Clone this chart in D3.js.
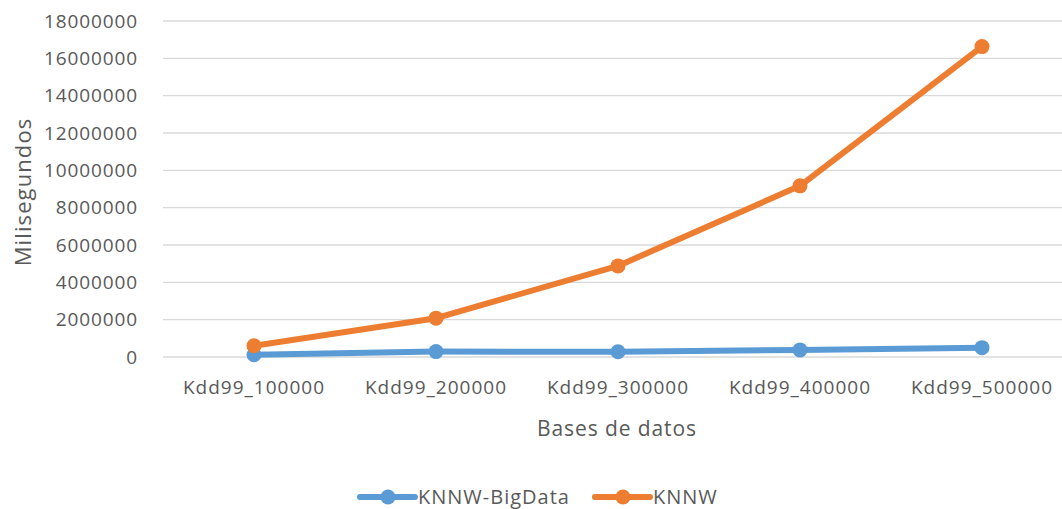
<!DOCTYPE html>
<html>
<head>
<meta charset="utf-8">
<script src="https://cdn.jsdelivr.net/npm/d3@7"></script>
<style>
  body { margin: 0; background: #fff; }
  text { font-family: "Open Sans", sans-serif; fill: #595959; }
</style>
</head>
<body>
<div id="container"></div>
<script>
var categories = ["Kdd99_100000", "Kdd99_200000", "Kdd99_300000", "Kdd99_400000", "Kdd99_500000"];
var bigData = [120000, 290000, 280000, 380000, 500000];
var knnw = [600000, 2080000, 4880000, 9170000, 16630000];
var yTicks = [0, 2000000, 4000000, 6000000, 8000000, 10000000, 12000000, 14000000, 16000000, 18000000];
var seriesNames = ["KNNW-BigData", "KNNW"];
var seriesColors = ["#5B9BD5", "#ED7D31"];

var W = 1062, H = 509;
var margin = {top: 21, right: -11, bottom: 152, left: 163},
    width = W - margin.left - margin.right,
    height = H - margin.top - margin.bottom;

var svg = d3.select("#container")
  .append("svg")
    .attr("width", W)
    .attr("height", H);

var g = svg.append("g")
    .attr("transform", "translate(" + margin.left + "," + margin.top + ")");

var x = d3.scaleBand()
  .domain(categories)
  .range([0, width]);

var y = d3.scaleLinear()
  .domain([0, 18000000])
  .range([height, 0]);

// gridlines
g.selectAll(".grid")
  .data(yTicks)
  .enter()
  .append("line")
    .attr("x1", 0)
    .attr("x2", width)
    .attr("y1", function (d) { return y(d); })
    .attr("y2", function (d) { return y(d); })
    .attr("stroke", "#d9d9d9")
    .attr("stroke-width", 1.3);

// Y axis
var yAxis = g.append("g")
  .call(d3.axisLeft(y).tickValues(yTicks).tickFormat(d3.format("d")).tickSize(0).tickPadding(25));
yAxis.select(".domain").remove();
yAxis.selectAll("text")
  .style("font-size", "19px")
  .style("letter-spacing", "0.9px")
  .attr("fill", "#595959");

// X axis
var xAxis = g.append("g")
  .attr("transform", "translate(0," + height + ")")
  .call(d3.axisBottom(x).tickSize(0).tickPadding(24));
xAxis.select(".domain").remove();
xAxis.selectAll("text")
  .style("font-size", "19px")
  .style("letter-spacing", "1px")
  .attr("fill", "#595959");

// axis titles
svg.append("text")
  .attr("transform", "translate(31," + (margin.top + height / 2 + 3) + ") rotate(-90)")
  .attr("text-anchor", "middle")
  .style("font-size", "22px")
  .style("letter-spacing", "1.1px")
  .text("Milisegundos");

svg.append("text")
  .attr("x", 617)
  .attr("y", 436)
  .attr("text-anchor", "middle")
  .style("font-size", "21px")
  .style("letter-spacing", "0.9px")
  .text("Bases de datos");

// lines
var line = d3.line()
  .x(function (d, i) { return x(categories[i]) + x.bandwidth() / 2; })
  .y(function (d) { return y(d); });

[bigData, knnw].forEach(function (s, k) {
  g.append("path")
    .datum(s)
    .attr("fill", "none")
    .attr("stroke", seriesColors[k])
    .attr("stroke-width", 6)
    .attr("stroke-linejoin", "round")
    .attr("stroke-linecap", "round")
    .attr("d", line);
  g.selectAll(".pt" + k)
    .data(s)
    .enter()
    .append("circle")
      .attr("cx", function (d, i) { return x(categories[i]) + x.bandwidth() / 2; })
      .attr("cy", function (d) { return y(d); })
      .attr("r", 7.5)
      .attr("fill", seriesColors[k]);
});

// legend
var legendX = [360, 595];
var leg = svg.selectAll(".leg")
  .data(seriesNames)
  .enter()
  .append("g")
    .attr("transform", function (d, i) { return "translate(" + legendX[i] + ",497)"; });
leg.append("line")
  .attr("x1", 0).attr("x2", 55)
  .attr("stroke", function (d, i) { return seriesColors[i]; })
  .attr("stroke-width", 6)
  .attr("stroke-linecap", "round");
leg.append("circle")
  .attr("cx", 28)
  .attr("r", 7.5)
  .attr("fill", function (d, i) { return seriesColors[i]; });
leg.append("text")
  .attr("x", 58)
  .attr("dy", "0.35em")
  .style("font-size", "20px")
  .style("letter-spacing", "1px")
  .text(function (d) { return d; });
</script>
</body>
</html>
